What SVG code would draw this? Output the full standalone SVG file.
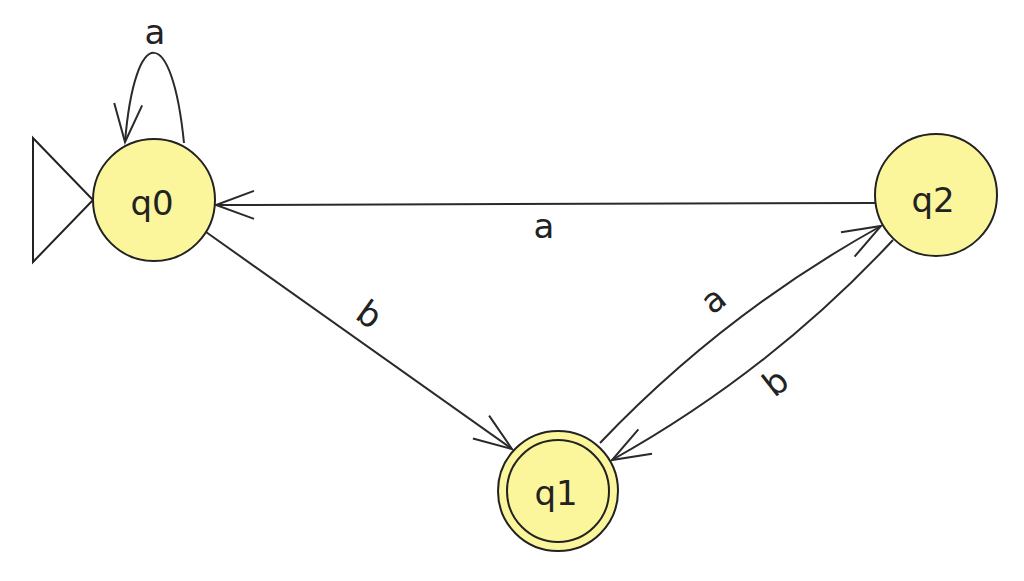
<svg xmlns="http://www.w3.org/2000/svg" width="1024" height="581" viewBox="0 0 1024 581">
<style>
.state{fill:#fbf69b;stroke:#222;stroke-width:2}
.edge{fill:none;stroke:#2a2a2a;stroke-width:2}
.lbl{font-family:"DejaVu Sans",Verdana,sans-serif;font-size:34px;fill:#222;text-anchor:middle}
</style>
<defs>
<marker id="arr" markerUnits="userSpaceOnUse" viewBox="-44 -18 48 36" refX="0" refY="0" markerWidth="48" markerHeight="36" orient="auto" overflow="visible">
<path d="M-38,-14 L0,0 L-38,14" fill="none" stroke="#2a2a2a" stroke-width="2"/>
</marker>
</defs>
<rect width="1024" height="581" fill="#fff"/>
<g id="connectors">
<path class="edge" d="M184,143 C172,23 135,23 125,142" marker-end="url(#arr)"/>
<path class="edge" d="M875,203 L216,205" marker-end="url(#arr)"/>
<path class="edge" d="M206,232 L512,449" marker-end="url(#arr)"/>
<path class="edge" d="M600,443 Q724,313 881,226" marker-end="url(#arr)"/>
<path class="edge" d="M893,240 Q770,372 612,460" marker-end="url(#arr)"/>
<text class="lbl" x="155" y="44">a</text>
<text class="lbl" x="544" y="238">a</text>
<text class="lbl" transform="translate(369,315) rotate(35.5)" x="0" y="11">b</text>
<text class="lbl" transform="translate(715,302) rotate(-38)" x="0" y="9">a</text>
<text class="lbl" transform="translate(776,383) rotate(-38)" x="0" y="11">b</text>
</g>
<g id="initial">
<polygon points="33,138 33,262 93,200" fill="none" stroke="#222" stroke-width="2"/>
</g>
<g id="q0">
<circle class="state" cx="154" cy="200" r="61"/>
<text class="lbl" x="152" y="215">q0</text>
</g>
<g id="q1">
<circle class="state" cx="558" cy="491" r="60"/>
<circle class="state" cx="558" cy="491" r="51"/>
<text class="lbl" x="556" y="505">q1</text>
</g>
<g id="q2">
<circle class="state" cx="936" cy="195" r="61"/>
<text class="lbl" x="933" y="212">q2</text>
</g>
</svg>
